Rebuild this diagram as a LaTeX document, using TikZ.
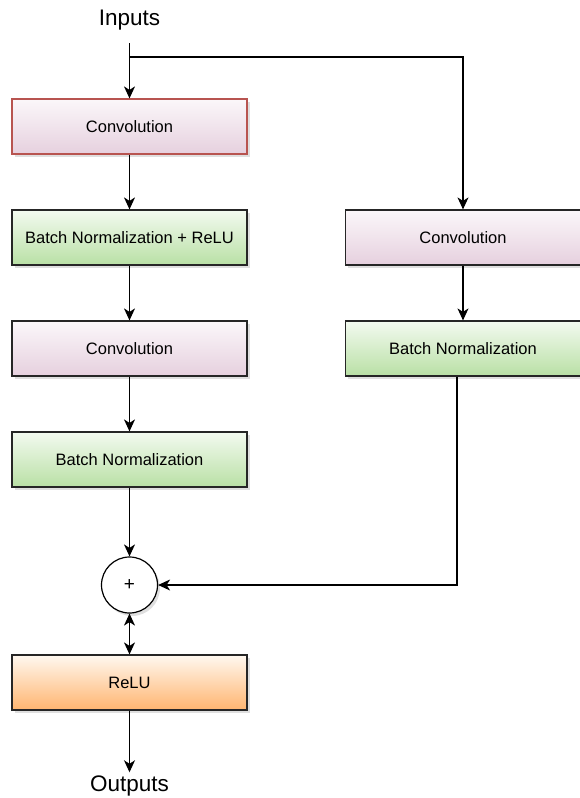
\documentclass[tikz,border=0pt]{standalone}
\usepackage{fontspec}
\setmainfont{Liberation Sans}
\usepackage{tikz}
\usetikzlibrary{arrows.meta,shadows}

\definecolor{convtop}{HTML}{FBF7FA}
\definecolor{convbot}{HTML}{E6D0DE}
\definecolor{bntop}{HTML}{F3FAF0}
\definecolor{bnbot}{HTML}{B9E0A5}
\definecolor{relutop}{HTML}{FFF8F0}
\definecolor{relubot}{HTML}{FFB570}
\definecolor{convred}{HTML}{B85450}

\tikzset{
  layer/.style={draw=black!85,line width=1.2pt,minimum width=235pt,minimum height=55pt,
    font=\fontsize{16.5}{20}\selectfont,
    drop shadow={opacity=0.25,shadow xshift=2.5pt,shadow yshift=-3pt}},
  conv/.style={layer,top color=convtop,bottom color=convbot},
  bnorm/.style={layer,top color=bntop,bottom color=bnbot},
  relu/.style={layer,top color=relutop,bottom color=relubot},
  flow/.style={line width=1.2pt,-{Stealth[length=12pt,width=11pt,inset=3.5pt]}},
  bothflow/.style={line width=1.2pt,{Stealth[length=12pt,width=11pt,inset=3.5pt]}-{Stealth[length=12pt,width=11pt,inset=3.5pt]}}
}

\begin{document}
\begin{tikzpicture}[x=1pt,y=-1pt]
\useasboundingbox (0,0) rectangle (579,798);
\node[font=\fontsize{22.5}{26}\selectfont] (in) at (129.5,20) {Inputs};
\node[font=\fontsize{22.5}{26}\selectfont] (out) at (129.5,786) {Outputs};
% main branch
\node[conv,draw=convred] (conv1) at (129.5,126.5) {Convolution};
\node[bnorm] (bnrelu) at (129.5,237.5) {Batch Normalization + ReLU};
\node[conv] (conv2) at (129.5,348.5) {Convolution};
\node[bnorm] (bn1) at (129.5,459.5) {Batch Normalization};
\node[circle,draw,line width=1.2pt,fill=white,minimum size=56pt,inner sep=0pt,
  font=\fontsize{19}{22}\selectfont,
  drop shadow={opacity=0.25,shadow xshift=2.5pt,shadow yshift=-3pt}] (add) at (129.5,585) {+};
\node[relu] (relu) at (129.5,682.5) {ReLU};
% shortcut branch
\node[conv] (conv3) at (463,237.5) {Convolution};
\node[bnorm] (bn2) at (463,348.5) {Batch Normalization};
\coordinate (split) at (129.5,57);
\coordinate (join) at (457,585);
\draw[line width=1.2pt] (129.5,43) -- (split);
\draw[flow] (split) -- (conv1);
\draw[flow] (conv1) -- (bnrelu);
\draw[flow] (bnrelu) -- (conv2);
\draw[flow] (conv2) -- (bn1);
\draw[flow] (bn1) -- (add);
\draw[flow] (split) -| (conv3);
\draw[flow] (conv3) -- (bn2);
\draw[flow] (bn2.south -| join) -- (join) -- (add);
\draw[bothflow] (add) -- (relu);
\draw[flow] (relu) -- (out.north);
\end{tikzpicture}
\end{document}
